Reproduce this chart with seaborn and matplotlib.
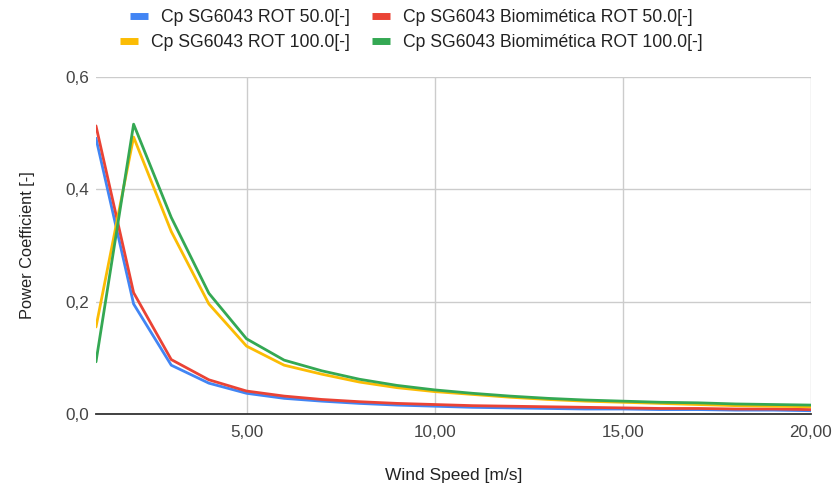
import pandas as pd
import seaborn as sns
import matplotlib.pyplot as plt
from matplotlib.ticker import FuncFormatter

sns.set_theme(style="white")
plt.rcParams['font.family'] = ['Liberation Sans', 'DejaVu Sans']

# Datos
wind = list(range(1, 21))
cp_rot50 = [0.491, 0.196, 0.087, 0.055, 0.037, 0.028, 0.023, 0.019, 0.016, 0.014,
            0.012, 0.011, 0.010, 0.009, 0.009, 0.008, 0.008, 0.007, 0.007, 0.006]
cp_bio50 = [0.513, 0.216, 0.097, 0.061, 0.041, 0.032, 0.026, 0.022, 0.019, 0.017,
            0.015, 0.014, 0.013, 0.012, 0.011, 0.010, 0.010, 0.009, 0.009, 0.008]
cp_rot100 = [0.155, 0.493, 0.325, 0.196, 0.121, 0.087, 0.071, 0.057, 0.047, 0.040,
             0.035, 0.030, 0.026, 0.023, 0.021, 0.019, 0.017, 0.015, 0.014, 0.013]
cp_bio100 = [0.093, 0.516, 0.350, 0.215, 0.134, 0.096, 0.077, 0.062, 0.051, 0.043,
             0.037, 0.032, 0.028, 0.025, 0.023, 0.021, 0.020, 0.018, 0.017, 0.016]

series = {
    "Cp SG6043 ROT 50.0[-]": cp_rot50,
    "Cp SG6043 Biomimética ROT 50.0[-]": cp_bio50,
    "Cp SG6043 ROT 100.0[-]": cp_rot100,
    "Cp SG6043 Biomimética ROT 100.0[-]": cp_bio100,
}
colores = ["#4285F4", "#EA4335", "#FBBC04", "#34A853"]

df = pd.concat(
    [pd.DataFrame({"wind": wind, "cp": v, "serie": k}) for k, v in series.items()],
    ignore_index=True,
)

fig = plt.figure(figsize=(8.39, 4.86), dpi=100)
ax = fig.add_axes([0.1144, 0.148, 0.8522, 0.6936])

sns.lineplot(data=df, x="wind", y="cp", hue="serie", palette=colores,
             linewidth=2.0, ax=ax, legend=False)

ax.set_xlim(1, 20)
ax.set_ylim(0, 0.6)
ax.set_xticks([5, 10, 15, 20])
ax.set_yticks([0, 0.2, 0.4, 0.6])
ax.xaxis.set_major_formatter(FuncFormatter(lambda v, p: f"{v:.2f}".replace(".", ",")))
ax.yaxis.set_major_formatter(FuncFormatter(lambda v, p: f"{v:.1f}".replace(".", ",")))
ax.grid(True, color="#cccccc", linewidth=1)
ax.set_axisbelow(True)
for s in ["top", "right", "left"]:
    ax.spines[s].set_visible(False)
ax.spines["bottom"].set_color("#333333")
ax.spines["bottom"].set_linewidth(1.3)
ax.tick_params(axis="x", length=0, labelsize=12.3, colors="#444444", pad=8)
ax.tick_params(axis="y", length=0, labelsize=12.3, colors="#444444", pad=5)
ax.set_xlabel("Wind Speed [m/s]", fontsize=12.5, color="#222222", labelpad=20)
ax.set_ylabel("Power Coefficient [-]", fontsize=11.8, color="#222222", labelpad=22)

# Leyenda estilo Google: cada fila centrada por separado
nombres = list(series.keys())
handles = [plt.Line2D([], [], color=c, linewidth=5, solid_capstyle="butt") for c in colores]
filas = [([0, 1], 0.49, 0.963), ([2, 3], 0.49, 0.912)]
for idx, xc, yc in filas:
    leg = fig.legend([handles[i] for i in idx], [nombres[i] for i in idx],
                     loc="center", bbox_to_anchor=(xc, yc), ncol=2, frameon=False,
                     fontsize=12.7, handlelength=1.05, handletextpad=0.7,
                     columnspacing=1.25, borderpad=0, labelcolor="#222222")

fig.savefig("out.png", dpi=100)
